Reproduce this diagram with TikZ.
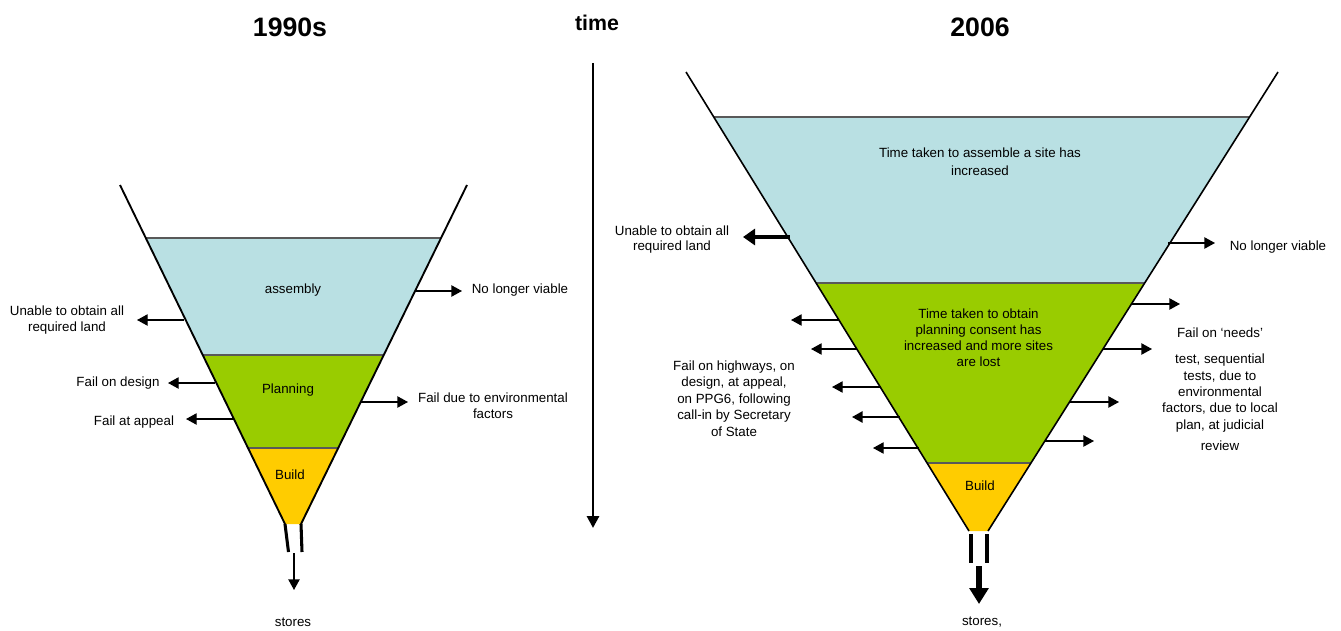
\documentclass[tikz,border=0pt]{standalone}
\usepackage{fontspec}
\setmainfont{Liberation Sans}
\usetikzlibrary{arrows.meta}
\definecolor{bandblue}{HTML}{B9E0E3}
\definecolor{bandgreen}{HTML}{99CC00}
\definecolor{bandyellow}{HTML}{FFCC00}
\begin{document}
\begin{tikzpicture}[x=0.75pt,y=-0.75pt,
  lbl/.style={font=\fontsize{10}{12.2}\selectfont, align=center, inner sep=0pt},
  ttl/.style={font=\fontsize{20}{24}\selectfont\bfseries, inner sep=0pt},
  thinarrow/.style={line width=1pt, -{Triangle[length=8pt,width=8.5pt]}},
  thickarrow/.style={line width=2.6pt, -{Triangle[length=9pt,width=12pt]}},
  bigarrow/.style={line width=5.2pt, -{Triangle[length=12pt,width=14pt]}},
  funnelline/.style={line width=1.4pt, black},
  band/.style={draw=black!65, line width=0.9pt},
  spout/.style={line width=2.3pt},
]
\useasboundingbox (0,0) rectangle (1341,631);

% ---------- titles ----------
\node[ttl] (t1990) at (290,27) {1990s};
\node[ttl, font=\fontsize{16}{19}\selectfont\bfseries] (ttime) at (597,23) {time};
\node[ttl] (t2006) at (980,27) {2006};

% time arrow
\coordinate (time1) at (593,63);
\coordinate (time2) at (593,528);
\draw[line width=2.2pt, -{Triangle[length=9pt,width=9pt]}] (time1) -- (time2);

% ---------- left funnel ----------
\fill[bandblue]   (145.7,238) -- (441.1,238) -- (384.0,355) -- (202.5,355) -- cycle;
\fill[bandgreen]  (202.5,355) -- (384.0,355) -- (338.6,448) -- (247.6,448) -- cycle;
\fill[bandyellow] (247.6,448) -- (338.6,448) -- (302.0,524) -- (284.5,524) -- cycle;
\draw[band] (145.7,238) -- (441.1,238);
\draw[band] (202.5,355) -- (384.0,355);
\draw[band] (247.6,448) -- (338.6,448);
\coordinate (lft1) at (120,185);
\coordinate (lft2) at (285,524);
\coordinate (lft3) at (467,185);
\coordinate (lft4) at (301,524);
\draw[funnelline] (lft1) -- (lft2);
\draw[funnelline] (lft3) -- (lft4);
\coordinate (lsp1) at (288.5,552);
\coordinate (lsp2) at (302,552);
\draw[spout] (lft2) -- (lsp1);
\draw[spout] (lft4) -- (lsp2);

\node[lbl] (lassembly) at (293,290) {assembly};
\node[lbl] (lplanning) at (288,390) {Planning};
\node[lbl] (lbuild) at (290,475) {Build};
\node[lbl] (lstores) at (293,622) {stores};

\node[lbl] (lunable) at (67,320) {Unable to obtain all\\required land};
\node[lbl] (lviable) at (520,290) {No longer viable};
\node[lbl] (ldesign) at (118,383) {Fail on design};
\node[lbl] (lappeal) at (134,422) {Fail at appeal};
\node[lbl] (lenv) at (493,406) {Fail due to environmental\\factors};

\coordinate (la1s) at (184,320); \coordinate (la1e) at (137,320);
\coordinate (la2s) at (415,291); \coordinate (la2e) at (462,291);
\coordinate (la3s) at (215,383); \coordinate (la3e) at (168,383);
\coordinate (la4s) at (233,419); \coordinate (la4e) at (186,419);
\coordinate (la5s) at (361,402); \coordinate (la5e) at (408,402);
\coordinate (la6s) at (294,553); \coordinate (la6e) at (294,590);
\draw[thinarrow] (la1s) -- (la1e);
\draw[thinarrow] (la2s) -- (la2e);
\draw[thinarrow] (la3s) -- (la3e);
\draw[thinarrow] (la4s) -- (la4e);
\draw[thinarrow] (la5s) -- (la5e);
\draw[thinarrow] (la6s) -- (la6e);

% ---------- right funnel ----------
\fill[bandblue]   (713.7,117) -- (1249.6,117) -- (1144.7,283) -- (816.1,283) -- cycle;
\fill[bandgreen]  (816.1,283) -- (1144.7,283) -- (1031.0,463) -- (927.1,463) -- cycle;
\fill[bandyellow] (927.1,463) -- (1031.0,463) -- (988,531) -- (969,531) -- cycle;
\draw[band] (713.7,117) -- (1249.6,117);
\draw[band] (816.1,283) -- (1144.7,283);
\draw[band] (927.1,463) -- (1031.0,463);
\coordinate (rft1) at (686,72);
\coordinate (rft2) at (969,531);
\coordinate (rft3) at (1278,72);
\coordinate (rft4) at (988,531);
\draw[funnelline, line width=1.2pt] (rft1) -- (rft2);
\draw[funnelline, line width=1.2pt] (rft3) -- (rft4);
\coordinate (rsp1) at (971,534); \coordinate (rsp2) at (971,563);
\coordinate (rsp3) at (987,534); \coordinate (rsp4) at (987,563);
\draw[line width=2.6pt] (rsp1) -- (rsp2);
\draw[line width=2.6pt] (rsp3) -- (rsp4);

\node[lbl, font=\fontsize{10}{13.8}\selectfont] (rassembly) at (980,162) {Time taken to assemble a site has\\increased};
\node[lbl, font=\fontsize{10}{12.1}\selectfont] (rplanning) at (978.5,337.5) {Time taken to obtain\\planning consent has\\increased and more sites\\are lost};
\node[lbl] (rbuild) at (980,486) {Build};
\node[lbl] (rstores) at (982,622) {stores,};

\node[lbl, font=\fontsize{10}{11.3}\selectfont] (runable) at (672,240) {Unable to obtain all\\required land};
\node[lbl] (rviable) at (1278,247) {No longer viable};
\node[lbl, font=\fontsize{10}{12.3}\selectfont] (rleft) at (734,398.5) {Fail on highways, on\\design, at appeal,\\on PPG6, following\\call-in by Secretary\\of State};
\node[lbl] (rneeds) at (1220,333) {Fail on `needs'};
\node[lbl, font=\fontsize{10}{12.3}\selectfont] (rright) at (1220,393) {test, sequential\\tests, due to\\environmental\\factors, due to local\\plan, at judicial};
\node[lbl] (rreview) at (1220,446) {review};

\coordinate (ra1s) at (790,237); \coordinate (ra1e) at (743,237);
\draw[thickarrow] (ra1s) -- (ra1e);
\coordinate (ra2s) at (1168,243); \coordinate (ra2e) at (1215,243);
\draw[thinarrow] (ra2s) -- (ra2e);

\coordinate (rl1s) at (839,320); \coordinate (rl1e) at (791,320);
\coordinate (rl2s) at (857,349); \coordinate (rl2e) at (811,349);
\coordinate (rl3s) at (881,387); \coordinate (rl3e) at (832,387);
\coordinate (rl4s) at (900,417); \coordinate (rl4e) at (852,417);
\coordinate (rl5s) at (919,448); \coordinate (rl5e) at (873,448);
\draw[thinarrow] (rl1s) -- (rl1e);
\draw[thinarrow] (rl2s) -- (rl2e);
\draw[thinarrow] (rl3s) -- (rl3e);
\draw[thinarrow, line width=1.4pt] (rl4s) -- (rl4e);
\draw[thinarrow] (rl5s) -- (rl5e);

\coordinate (rr1s) at (1131,304); \coordinate (rr1e) at (1180,304);
\coordinate (rr2s) at (1103,349); \coordinate (rr2e) at (1152,349);
\coordinate (rr3s) at (1070,402); \coordinate (rr3e) at (1119,402);
\coordinate (rr4s) at (1045,441); \coordinate (rr4e) at (1094,441);
\draw[thinarrow] (rr1s) -- (rr1e);
\draw[thinarrow] (rr2s) -- (rr2e);
\draw[thinarrow] (rr3s) -- (rr3e);
\draw[thinarrow] (rr4s) -- (rr4e);

\coordinate (rbs) at (979,566); \coordinate (rbe) at (979,604);
\draw[bigarrow] (rbs) -- (rbe);
\end{tikzpicture}
\end{document}
